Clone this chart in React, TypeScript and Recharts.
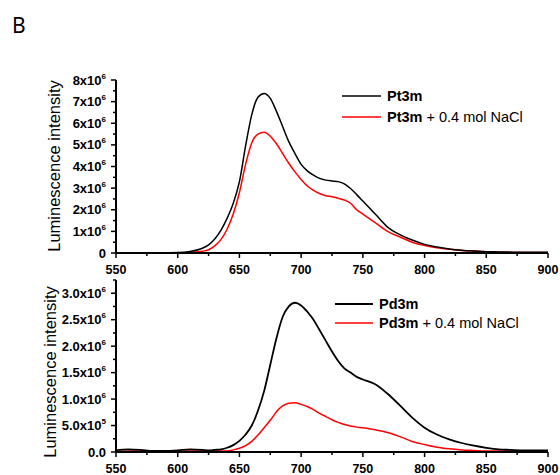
import React from 'react';
import { LineChart, Line, XAxis, YAxis } from 'recharts';

// emission wavelengths (nm)
const wavelengths = [
  550, 560, 570, 580, 590, 600, 610, 620, 625, 630, 635, 640, 645, 650, 655, 660, 665, 670, 675, 680,
  685, 690, 695, 700, 705, 710, 715, 720, 725, 730, 735, 740, 745, 750, 755, 760, 770, 780, 790, 800,
  810, 820, 830, 840, 850, 860, 870, 880, 890, 900,
];

// intensities in units of 10^6
const pt3m = [
  0, 0, 0, 0, 0.01, 0.02, 0.07, 0.22, 0.38, 0.65, 1.05, 1.6, 2.3, 3.3, 4.95, 6.4, 7.2, 7.38, 7.15, 6.55,
  5.85, 5.15, 4.6, 4.1, 3.8, 3.6, 3.45, 3.37, 3.33, 3.3, 3.2, 2.98, 2.7, 2.4, 2.1, 1.8, 1.2, 0.85, 0.6, 0.4,
  0.28, 0.19, 0.13, 0.09, 0.06, 0.05, 0.04, 0.03, 0.03, 0.03,
];
const pt3mNaCl = [
  0, 0, 0, 0, 0, 0.01, 0.03, 0.08, 0.15, 0.33, 0.62, 1.1, 1.8, 2.8, 4.1, 5.1, 5.5, 5.58, 5.4, 5.05,
  4.6, 4.15, 3.75, 3.4, 3.1, 2.9, 2.75, 2.65, 2.6, 2.53, 2.45, 2.3, 2.0, 1.8, 1.6, 1.4, 1.0, 0.74, 0.5, 0.35,
  0.24, 0.17, 0.12, 0.09, 0.06, 0.04, 0.03, 0.02, 0.02, 0.02,
];
const pd3m = [
  0.03, 0.05, 0.04, 0.02, 0.02, 0.03, 0.05, 0.04, 0.03, 0.04, 0.05, 0.08, 0.13, 0.21, 0.33, 0.5, 0.78, 1.15, 1.65, 2.15,
  2.55, 2.75, 2.82, 2.77, 2.65, 2.5, 2.3, 2.1, 1.9, 1.72, 1.58, 1.5, 1.42, 1.37, 1.33, 1.28, 1.1, 0.88, 0.65, 0.46,
  0.33, 0.24, 0.17, 0.12, 0.08, 0.05, 0.04, 0.03, 0.03, 0.03,
];
const pd3mNaCl = [
  0.01, 0.02, 0.02, 0.01, 0.01, 0.01, 0.02, 0.02, 0.02, 0.02, 0.02, 0.02, 0.04, 0.07, 0.12, 0.2, 0.32, 0.46, 0.6, 0.76,
  0.87, 0.92, 0.93, 0.9, 0.86, 0.8, 0.73, 0.67, 0.61, 0.56, 0.52, 0.49, 0.47, 0.46, 0.44, 0.42, 0.37, 0.29, 0.2, 0.14,
  0.09, 0.06, 0.04, 0.03, 0.02, 0.02, 0.02, 0.02, 0.02, 0.02,
];

const xTicks = [550, 575, 600, 625, 650, 675, 700, 725, 750, 775, 800, 825, 850, 875, 900];
const xMajor = [550, 600, 650, 700, 750, 800, 850, 900];

const topTicks = [0, 0.5, 1, 1.5, 2, 2.5, 3, 3.5, 4, 4.5, 5, 5.5, 6, 6.5, 7, 7.5, 8];
const topLabels: Record<string, [string, string]> = {
  '0': ['0', ''], '1': ['1x10', '6'], '2': ['2x10', '6'], '3': ['3x10', '6'], '4': ['4x10', '6'],
  '5': ['5x10', '6'], '6': ['6x10', '6'], '7': ['7x10', '6'], '8': ['8x10', '6'],
};
const bottomTicks = [0, 0.25, 0.5, 0.75, 1, 1.25, 1.5, 1.75, 2, 2.25, 2.5, 2.75, 3, 3.25];
const bottomLabels: Record<string, [string, string]> = {
  '0': ['0.0', ''], '0.5': ['5.0x10', '5'], '1': ['1.0x10', '6'], '1.5': ['1.5x10', '6'],
  '2': ['2.0x10', '6'], '2.5': ['2.5x10', '6'], '3': ['3.0x10', '6'],
};

const topData = wavelengths.map((wl, i) => ({ wl, a: pt3m[i], b: pt3mNaCl[i] }));
const bottomData = wavelengths.map((wl, i) => ({ wl, a: pd3m[i], b: pd3mNaCl[i] }));

const FONT = '"Liberation Sans", Arial, sans-serif';

const XTick = (props: any) => {
  const { x, y, payload } = props;
  const major = xMajor.includes(payload.value);
  return (
    <g>
      <line x1={x} x2={x} y1={y} y2={y + (major ? 5 : 3)} stroke="#000" strokeWidth={1.5} />
      {major && (
        <text x={x} y={y + 21} textAnchor="middle" fontFamily={FONT} fontWeight="bold" fontSize={12.5} fill="#000">
          {payload.value}
        </text>
      )}
    </g>
  );
};

const makeYTick = (labels: Record<string, [string, string]>) => (props: any) => {
  const { x, y, payload } = props;
  const lab = labels[String(payload.value)];
  return (
    <g>
      <line x1={x - (lab ? 5 : 3)} x2={x} y1={y} y2={y} stroke="#000" strokeWidth={1.5} />
      {lab && (
        <text x={x - 10} y={y + 4.5} textAnchor="end" fontFamily={FONT} fontWeight="bold" fontSize={13} fill="#000">
          {lab[0]}
          {lab[1] && (
            <tspan dy={-6} fontSize={8}>
              {lab[1]}
            </tspan>
          )}
        </text>
      )}
    </g>
  );
};

const TopYTick = makeYTick(topLabels);
const BottomYTick = makeYTick(bottomLabels);

const App: React.FC = () => {
  return (
    <div style={{ position: 'absolute', left: 0, top: 0, width: 560, height: 475, background: '#fff', fontFamily: FONT }}>
      <div style={{ position: 'absolute', left: 0, top: 0 }}>
        <LineChart width={560} height={280} data={topData} margin={{ top: 80, right: 12, left: 0, bottom: 0 }}>
          <XAxis
            type="number" dataKey="wl" domain={[550, 900]} ticks={xTicks} interval={0}
            height={27} tickSize={0} tickMargin={0} tickLine={false}
            axisLine={{ stroke: '#000', strokeWidth: 2 }} tick={<XTick />}
          />
          <YAxis
            type="number" domain={[0, 8]} ticks={topTicks} interval={0}
            width={116} tickSize={0} tickMargin={0} tickLine={false}
            axisLine={{ stroke: '#000', strokeWidth: 2 }} tick={<TopYTick />}
          />
          <Line type="monotone" dataKey="b" stroke="#ff0000" strokeWidth={1.5} dot={false} isAnimationActive={false} />
          <Line type="monotone" dataKey="a" stroke="#000" strokeWidth={1.5} dot={false} isAnimationActive={false} />
        </LineChart>
      </div>
      <div style={{ position: 'absolute', left: 0, top: 270 }}>
        <LineChart width={560} height={205} data={bottomData} margin={{ top: 10, right: 12, left: 0, bottom: 0 }}>
          <XAxis
            type="number" dataKey="wl" domain={[550, 900]} ticks={xTicks} interval={0}
            height={23} tickSize={0} tickMargin={0} tickLine={false}
            axisLine={{ stroke: '#000', strokeWidth: 2 }} tick={<XTick />}
          />
          <YAxis
            type="number" domain={[0, 3.25]} ticks={bottomTicks} interval={0}
            width={116} tickSize={0} tickMargin={0} tickLine={false}
            axisLine={{ stroke: '#000', strokeWidth: 2 }} tick={<BottomYTick />}
          />
          <Line type="monotone" dataKey="b" stroke="#ff0000" strokeWidth={1.5} dot={false} isAnimationActive={false} />
          <Line type="monotone" dataKey="a" stroke="#000" strokeWidth={1.8} dot={false} isAnimationActive={false} />
        </LineChart>
      </div>
      <svg width={560} height={475} style={{ position: 'absolute', left: 0, top: 0, pointerEvents: 'none' }}>
        <text x={12} y={33} fontFamily='"Noto Sans", sans-serif' fontSize={21} fill="#000">B</text>
        <text transform="translate(60,166) rotate(-90)" textAnchor="middle" fontFamily={FONT} fontSize={16.5} fill="#000">
          Luminescence intensity
        </text>
        <text transform="translate(56,372) rotate(-90)" textAnchor="middle" fontFamily={FONT} fontSize={16.5} fill="#000">
          Luminescence intensity
        </text>

        <line x1={342} x2={381} y1={96} y2={96} stroke="#000" strokeWidth={1.5} />
        <text x={387} y={101} fontFamily={FONT} fontSize={14.5} fill="#000" fontWeight="bold">Pt3m</text>
        <line x1={342} x2={381} y1={117} y2={117} stroke="#ff0000" strokeWidth={1.5} />
        <text x={387} y={122} fontFamily={FONT} fontSize={14.5} fill="#000">
          <tspan fontWeight="bold">Pt3m</tspan> + 0.4 mol NaCl
        </text>

        <line x1={335} x2={373} y1={304} y2={304} stroke="#000" strokeWidth={2} />
        <text x={379} y={309} fontFamily={FONT} fontSize={14.5} fill="#000" fontWeight="bold">Pd3m</text>
        <line x1={335} x2={373} y1={323} y2={323} stroke="#ff0000" strokeWidth={1.5} />
        <text x={379} y={328} fontFamily={FONT} fontSize={14.5} fill="#000">
          <tspan fontWeight="bold">Pd3m</tspan> + 0.4 mol NaCl
        </text>
      </svg>
    </div>
  );
};

export default App;
